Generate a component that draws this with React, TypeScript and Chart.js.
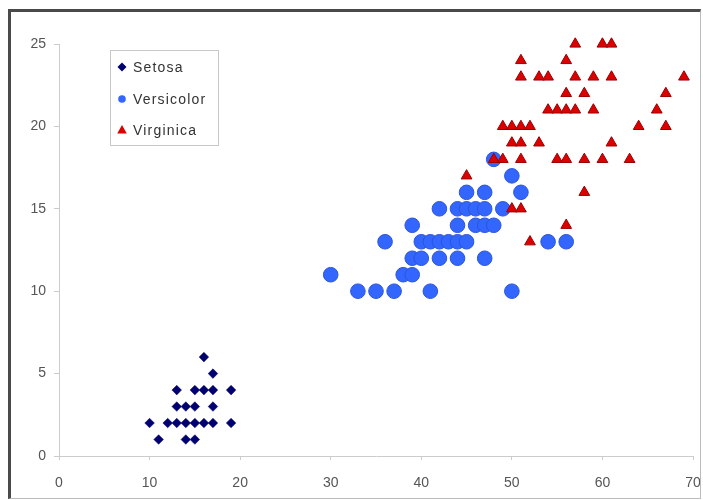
import React, { useEffect, useRef } from "react";
import { Chart, registerables } from "chart.js";

Chart.register(...registerables);

// Petal length (x) vs petal width (y), in mm
const setosa: [number, number][] = [
  [10, 2], [11, 1], [12, 2], [13, 2], [14, 2], [15, 2], [16, 2], [17, 2], [19, 2],
  [13, 3], [14, 3], [15, 3], [17, 3],
  [13, 4], [15, 4], [16, 4], [17, 4], [19, 4],
  [17, 5], [16, 6], [14, 1], [15, 1],
];

const versicolor: [number, number][] = [
  [30, 11], [33, 10], [35, 10], [37, 10], [41, 10], [50, 10],
  [38, 11], [39, 11],
  [39, 12], [40, 12], [42, 12], [44, 12], [47, 12],
  [36, 13], [40, 13], [41, 13], [42, 13], [43, 13], [44, 13], [45, 13], [54, 13], [56, 13],
  [39, 14], [44, 14], [46, 14], [47, 14], [48, 14],
  [42, 15], [44, 15], [45, 15], [46, 15], [47, 15], [49, 15],
  [45, 16], [47, 16], [51, 16],
  [50, 17], [48, 18],
];

const virginica: [number, number][] = [
  [52, 13], [56, 14], [50, 15], [51, 15], [58, 16], [45, 17],
  [48, 18], [49, 18], [51, 18], [55, 18], [56, 18], [58, 18], [60, 18], [63, 18],
  [50, 19], [51, 19], [53, 19], [61, 19],
  [49, 20], [50, 20], [51, 20], [52, 20], [64, 20], [67, 20],
  [54, 21], [55, 21], [56, 21], [57, 21], [59, 21], [66, 21],
  [56, 22], [58, 22], [67, 22],
  [51, 23], [53, 23], [54, 23], [57, 23], [59, 23], [61, 23], [69, 23],
  [51, 24], [56, 24],
  [57, 25], [60, 25], [61, 25],
];

const seriesNames = ["Setosa", "Versicolor", "Virginica"];
const xTicks = [0, 10, 20, 30, 40, 50, 60, 70];
const yTicks = [0, 5, 10, 15, 20, 25];

const FONT = '"Liberation Sans", Arial, sans-serif';
const C_SETOSA = "#000070";
const C_VERSI = "#3366ff";
const C_VIRG = "#dd0000";

const legendPlugin = {
  id: "innerLegend",
  afterDraw(chart: any) {
    const ctx = chart.ctx as CanvasRenderingContext2D;
    ctx.save();
    ctx.fillStyle = "#ffffff";
    ctx.fillRect(110.5, 50.5, 108, 95);
    ctx.strokeStyle = "#c8c8c8";
    ctx.lineWidth = 1;
    ctx.strokeRect(110.5, 50.5, 108, 95);
    const mx = 122;
    const rows = [67, 99, 130];
    // diamond
    ctx.fillStyle = C_SETOSA;
    ctx.beginPath();
    ctx.moveTo(mx, rows[0] - 4.5);
    ctx.lineTo(mx + 4.5, rows[0]);
    ctx.lineTo(mx, rows[0] + 4.5);
    ctx.lineTo(mx - 4.5, rows[0]);
    ctx.closePath();
    ctx.fill();
    // circle
    ctx.fillStyle = C_VERSI;
    ctx.beginPath();
    ctx.arc(mx, rows[1], 3.8, 0, Math.PI * 2);
    ctx.fill();
    // triangle
    ctx.fillStyle = C_VIRG;
    ctx.beginPath();
    ctx.moveTo(mx, rows[2] - 5);
    ctx.lineTo(mx + 4.8, rows[2] + 3.5);
    ctx.lineTo(mx - 4.8, rows[2] + 3.5);
    ctx.closePath();
    ctx.fill();
    ctx.fillStyle = "#333333";
    ctx.font = `14px ${FONT}`;
    (ctx as any).letterSpacing = "1.2px";
    ctx.textBaseline = "middle";
    ctx.textAlign = "left";
    seriesNames.forEach((n, i) => ctx.fillText(n, 133, rows[i] + 1));
    ctx.restore();
  },
};

export default function App() {
  const ref = useRef<HTMLCanvasElement>(null);
  useEffect(() => {
    if (!ref.current) return;
    const toPts = (a: [number, number][]) => a.map(([x, y]) => ({ x, y }));
    const chart = new Chart(ref.current, {
      type: "scatter",
      data: {
        datasets: [
          {
            label: seriesNames[0],
            data: toPts(setosa),
            pointStyle: "rectRot",
            pointRadius: 4.8,
            backgroundColor: C_SETOSA,
            borderColor: C_SETOSA,
            borderWidth: 0.5,
            order: 3,
            clip: false,
          },
          {
            label: seriesNames[1],
            data: toPts(versicolor),
            pointStyle: "circle",
            pointRadius: 7.3,
            backgroundColor: C_VERSI,
            borderColor: "#2a55d8",
            borderWidth: 1,
            order: 2,
            clip: false,
          },
          {
            label: seriesNames[2],
            data: toPts(virginica),
            pointStyle: "triangle",
            pointRadius: 6.2,
            backgroundColor: C_VIRG,
            borderColor: "#990000",
            borderWidth: 1,
            order: 1,
            clip: false,
          },
        ],
      },
      options: {
        animation: false,
        responsive: false,
        layout: { padding: { left: 0, right: 10, top: 44, bottom: 0 } },
        plugins: { legend: { display: false }, tooltip: { enabled: false } },
        scales: {
          x: {
            type: "linear",
            min: 0,
            max: 70,
            afterBuildTicks: (s: any) => {
              s.ticks = xTicks.map((v) => ({ value: v }));
            },
            afterFit: (s: any) => {
              s.height = 44;
              s.paddingLeft = 0;
              s.paddingRight = 0;
            },
            grid: {
              display: true,
              drawOnChartArea: false,
              drawTicks: true,
              tickLength: 4,
              color: "#cccccc",
            },
            border: { display: true, color: "#cccccc", width: 1 },
            ticks: {
              padding: 15,
              color: "#555555",
              font: { family: FONT, size: 14 },
              maxRotation: 0,
            },
          },
          y: {
            type: "linear",
            min: 0,
            max: 25,
            afterBuildTicks: (s: any) => {
              s.ticks = yTicks.map((v) => ({ value: v }));
            },
            afterFit: (s: any) => {
              s.width = 59;
              s.paddingTop = 0;
              s.paddingBottom = 0;
            },
            grid: {
              display: true,
              drawOnChartArea: false,
              drawTicks: true,
              tickLength: 5,
              color: "#cccccc",
            },
            border: { display: true, color: "#cccccc", width: 1 },
            ticks: {
              padding: 8,
              color: "#555555",
              font: { family: FONT, size: 14 },
            },
          },
        },
      },
      plugins: [legendPlugin],
    });
    return () => chart.destroy();
  }, []);

  return (
    <div
      style={{
        position: "fixed",
        left: 0,
        top: 0,
        width: 703,
        height: 500,
        background: "#ffffff",
      }}
    >
      <canvas ref={ref} width={703} height={500} style={{ position: "absolute", left: 0, top: 0 }} />
      <div
        style={{
          position: "absolute",
          left: 8,
          top: 9,
          width: 693,
          height: 490,
          boxSizing: "border-box",
          borderLeft: "3px solid #4a4a4a",
          borderTop: "3px solid #4a4a4a",
          borderRight: "1px solid #bbbbbb",
          borderBottom: "1px solid #bbbbbb",
          pointerEvents: "none",
        }}
      />
    </div>
  );
}
